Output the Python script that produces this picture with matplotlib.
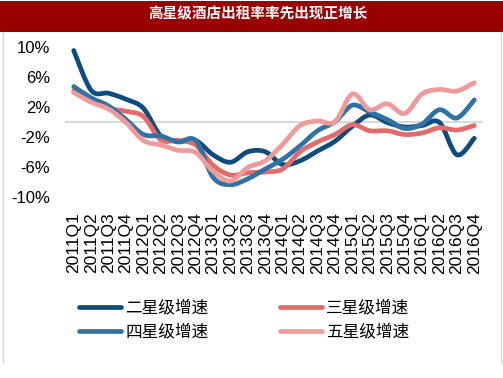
import numpy as np
import matplotlib
matplotlib.use('Agg')
import matplotlib.pyplot as plt
from matplotlib.path import Path
from matplotlib.patches import PathPatch, Rectangle
from matplotlib.lines import Line2D

plt.rcParams['font.family'] = ['Liberation Sans', 'Noto Sans CJK SC', 'DejaVu Sans']

# quarterly growth of hotel occupancy rate, %
quarters = ['2011Q1', '2011Q2', '2011Q3', '2011Q4', '2012Q1', '2012Q2', '2012Q3', '2012Q4',
            '2013Q1', '2013Q2', '2013Q3', '2013Q4', '2014Q1', '2014Q2', '2014Q3', '2014Q4',
            '2015Q1', '2015Q2', '2015Q3', '2015Q4', '2016Q1', '2016Q2', '2016Q3', '2016Q4']
star2 = [9.6, 4.3, 3.9, 3.1, 1.9, -1.8, -2.5, -2.4, -4.3, -5.3, -3.9, -3.9,
         -5.6, -5.1, -3.8, -2.5, -0.5, 1.0, 0.0, -0.6, -0.4, 0.0, -4.3, -2.1]
star3 = [4.2, 3.0, 1.9, 1.5, 0.8, -2.3, -2.4, -3.0, -5.7, -7.0, -6.7, -6.6,
         -6.2, -3.9, -2.6, -1.6, -0.3, -1.1, -1.1, -1.6, -1.4, -0.7, -1.0, -0.4]
star4 = [4.8, 3.3, 2.2, 0.4, -1.6, -1.8, -2.6, -2.4, -7.3, -8.3, -7.5, -6.2,
         -4.9, -3.1, -1.1, 0.1, 2.3, 1.4, 0.4, -0.8, -0.2, 1.7, 0.6, 3.0]
star5 = [4.0, 2.7, 1.8, 0.0, -2.4, -3.0, -3.7, -4.0, -6.5, -7.8, -6.0, -5.1,
         -2.9, -0.4, 0.2, 0.1, 3.8, 1.7, 2.5, 1.2, 3.8, 4.4, 4.2, 5.3]
names = ['二星级增速', '三星级增速', '四星级增速', '五星级增速']
yticks = [10, 6, 2, -2, -6, -10]

colors = ['#0f4c7e', '#e26b6b', '#2f72a3', '#ef9b9b']
cjk = ['Noto Sans CJK SC', 'DejaVu Sans']


def smooth_path(xs, ys):
    # bezier through the points, like excel "smoothed line"
    pts = np.column_stack([xs, ys]).astype(float)
    n = len(pts)
    verts = [pts[0]]
    codes = [Path.MOVETO]
    for i in range(n - 1):
        p0 = pts[max(i - 1, 0)]
        p1 = pts[i]
        p2 = pts[i + 1]
        p3 = pts[min(i + 2, n - 1)]
        verts += [p1 + (p2 - p0) / 6, p2 - (p3 - p1) / 6, p2]
        codes += [Path.CURVE4] * 3
    return Path(verts, codes)


W, H = 503, 378
fig = plt.figure(figsize=(W / 100, H / 100), dpi=100)

# title banner
fig.add_artist(Rectangle((0, 1 - 31.5 / H), 1, 30 / H, transform=fig.transFigure,
                         facecolor='#990000', edgecolor='none'))
fig.text(258 / W, 1 - 13 / H, '高星级酒店出租率率先出现正增长', ha='center', va='center',
         color='white', fontsize=10.5, fontweight='bold', family=cjk)
# side frame lines
for xp in (2.7, 500.5):
    fig.add_artist(Line2D([xp / W, xp / W], [1 - 32 / H, 1 - 363 / H],
                          transform=fig.transFigure, color='#d9d9d9', lw=1))

ax = fig.add_axes([65 / W, 1 - 197.5 / H, 418 / W, 150 / H])
x = np.arange(len(quarters))
series = [star2, star3, star4, star5]
handles = []
for vals, c, name in zip(series, colors, names):
    ax.add_patch(PathPatch(smooth_path(x, vals), facecolor='none', edgecolor=c, lw=3.4,
                           capstyle='round', joinstyle='round', zorder=3))
    handles.append(Line2D([], [], color=c, lw=3.4, solid_capstyle='round', label=name))

ax.axhline(0, color='#d9d9d9', lw=1.5, zorder=1)
ax.set_xlim(-0.5, len(quarters) - 0.5)
ax.set_ylim(-10, 10)
for s in ax.spines.values():
    s.set_visible(False)

ax.set_xticks(x)
ax.set_xticklabels(quarters, rotation=90, fontsize=12.5)
ax.set_yticks(yticks)
ax.set_yticklabels([f'{v}%' for v in yticks], fontsize=12)
ax.tick_params(axis='x', length=0, pad=10.4)
ax.tick_params(axis='y', length=0, pad=10.8)

order = [0, 2, 1, 3]
fig.legend([handles[i] for i in order], [names[i] for i in order], ncol=2,
           loc='center', bbox_to_anchor=(244 / W, 1 - 320 / H), frameon=False,
           prop={'family': cjk, 'size': 12},
           handlelength=2.5, handletextpad=0.25, columnspacing=4.3, labelspacing=0.4,
           borderpad=0)

fig.savefig('out.png', dpi=100)
